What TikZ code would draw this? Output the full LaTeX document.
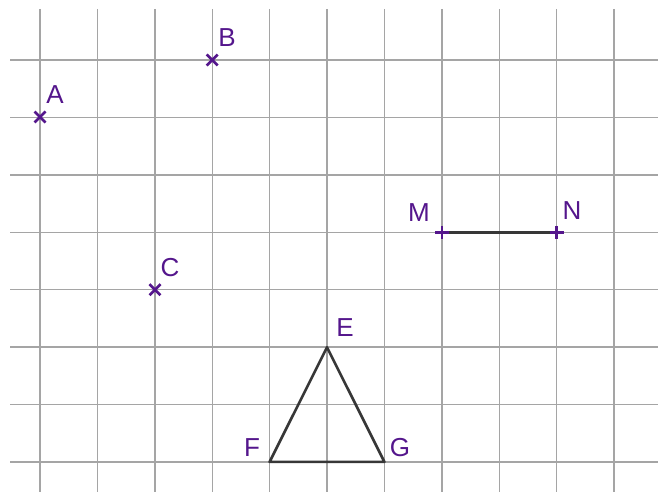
\documentclass[tikz,border=0pt]{standalone}
\usepackage{fontspec}
\setmainfont{Liberation Sans}
\definecolor{ptpurple}{RGB}{84,22,140}
\definecolor{gridgray}{RGB}{165,165,165}
\definecolor{segdark}{RGB}{55,55,55}
\begin{document}
\begin{tikzpicture}[x=1pt,y=-1pt,
  gridline/.style={draw=gridgray,line width=1.4pt},
  seg/.style={draw=segdark,line width=2.6pt,line join=round},
  lbl/.style={text=ptpurple,inner sep=0pt,font=\fontsize{26}{26}\selectfont},
  mk/.style={draw=ptpurple,line width=2.7pt}]
\useasboundingbox (0,0) rectangle (663,492);
% grid
\foreach \k in {0,...,10}{
  \draw[gridline] ({40+57.4*\k},9) -- ({40+57.4*\k},492);
}
\foreach \k in {0,...,7}{
  \draw[gridline] (10,{60+57.43*\k}) -- (658,{60+57.43*\k});
}
% points
\coordinate (A) at (40,117);
\coordinate (B) at (212.2,60);
\coordinate (C) at (155,289.7);
\coordinate (M) at (442,232.3);
\coordinate (N) at (556.8,232.3);
\coordinate (E) at (327,347.2);
\coordinate (F) at (269.6,461.9);
\coordinate (G) at (384.4,461.9);
% segments
\draw[seg] (M) -- (N);
\draw[seg] (E) -- (F) -- (G) -- cycle;
% cross markers
\foreach \p in {A,B,C}{
  \draw[mk] ([shift={(-5.5,-5.5)}]\p) -- ([shift={(5.5,5.5)}]\p);
  \draw[mk] ([shift={(-5.5,5.5)}]\p) -- ([shift={(5.5,-5.5)}]\p);
}
% plus markers
\foreach \p in {M,N}{
  \draw[mk] ([shift={(-7,0)}]\p) -- ([shift={(7,0)}]\p);
  \draw[mk] ([shift={(0,-6.5)}]\p) -- ([shift={(0,6.5)}]\p);
}
% labels
\node[lbl] (lA) at (55,95) {A};
\node[lbl] (lB) at (227,38) {B};
\node[lbl] (lC) at (170,268) {C};
\node[lbl] (lM) at (419,213) {M};
\node[lbl] (lN) at (572,211) {N};
\node[lbl] (lE) at (345,328) {E};
\node[lbl] (lF) at (252,448) {F};
\node[lbl] (lG) at (400,448) {G};
\end{tikzpicture}
\end{document}
